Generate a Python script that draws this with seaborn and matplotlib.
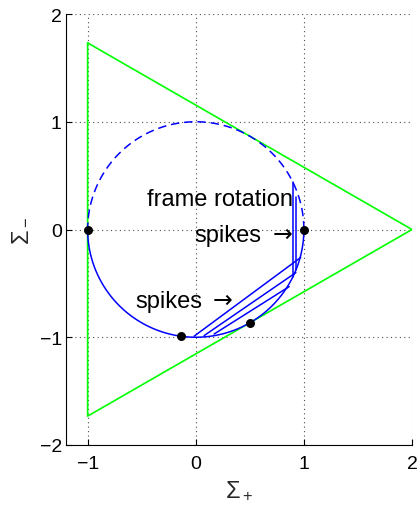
import numpy as np
import pandas as pd
import seaborn as sns
import matplotlib.pyplot as plt

# Kasner triangle vertices (closed)
triangle_x = [-1.0, -1.0, 2.0, -1.0]
triangle_y = [1.732, -1.732, 0.0, 1.732]

# Kasner circle: upper half dashed, lower half solid (angles in degrees)
circle_dashed_deg = (0.0, 180.0)
circle_solid_deg = (180.0, 360.0)

# Spike transitions: straight segments between Kasner points
spike_start_x = [-0.015, 0.077, 0.17]
spike_start_y = [-0.99, -0.985, -0.97]
spike_end_x = [0.97, 0.926, 0.864]
spike_end_y = [-0.26, -0.40, -0.53]

# Frame rotations: Sigma_+ held fixed while Sigma_- changes
rotation_x = [0.904, 0.926]
rotation_top = [0.44, 0.30]
rotation_bottom = [-0.44, -0.38]

# Marked points
dot_x = [-1.0, -0.14, 0.5, 1.0]
dot_y = [0.0, -0.99, -0.866, 0.0]

x_ticks = [-1, 0, 1, 2]
y_ticks = [-2, -1, 0, 1, 2]

sns.set_theme(style="white")
plt.rcParams["font.family"] = ["Liberation Sans", "DejaVu Sans"]
plt.rcParams["mathtext.fontset"] = "custom"
plt.rcParams["mathtext.rm"] = "Liberation Sans"
plt.rcParams["mathtext.it"] = "Liberation Sans:italic"
plt.rcParams["axes.unicode_minus"] = True

fig = plt.figure(figsize=(4.19, 5.10), dpi=100)
ax = fig.add_axes([66 / 419, 64 / 510, 346 / 419, 431 / 510])

blue = (0.0, 0.0, 1.0)
green = (0.0, 1.0, 0.0)

# Triangle
sns.lineplot(x=triangle_x, y=triangle_y, sort=False, estimator=None,
             color=green, lw=1.2, ax=ax)


def arc(deg_range, n=240):
    t = np.deg2rad(np.linspace(deg_range[0], deg_range[1], n))
    return np.cos(t), np.sin(t)


cx, cy = arc(circle_dashed_deg)
sns.lineplot(x=cx, y=cy, sort=False, estimator=None, color=blue, lw=1.1,
             ls=(0, (5.5, 3.2)), ax=ax)
cx, cy = arc(circle_solid_deg)
sns.lineplot(x=cx, y=cy, sort=False, estimator=None, color=blue, lw=1.1, ax=ax)

# Spikes and frame rotations as separate segments
rows = []
for i, (x0, y0, x1, y1) in enumerate(zip(spike_start_x, spike_start_y,
                                         spike_end_x, spike_end_y)):
    rows += [(f"s{i}", 0, x0, y0), (f"s{i}", 1, x1, y1)]
for i, (xr, yt, yb) in enumerate(zip(rotation_x, rotation_top, rotation_bottom)):
    rows += [(f"r{i}", 0, xr, yt), (f"r{i}", 1, xr, yb)]
seg = pd.DataFrame(rows, columns=["seg", "order", "x", "y"])
sns.lineplot(data=seg, x="x", y="y", units="seg", estimator=None, sort=False,
             color=blue, lw=1.1, ax=ax)

sns.scatterplot(x=dot_x, y=dot_y, color="black", s=42, edgecolor="black",
                linewidth=0, zorder=5, ax=ax)

txt_kw = dict(fontsize=17, va="baseline", color="black")
ax.text(0.895, 0.225, "frame rotation", ha="right",
        family=["Liberation Sans", "DejaVu Sans"], **txt_kw)
ax.text(0.611, -0.11, "spikes", ha="right",
        family=["Liberation Sans", "DejaVu Sans"], **txt_kw)
ax.text(0.895, -0.11, "\u2192", ha="right", family=["DejaVu Sans"],
        **txt_kw)
ax.text(0.062, -0.72, "spikes", ha="right",
        family=["Liberation Sans", "DejaVu Sans"], **txt_kw)
ax.text(0.34, -0.72, "\u2192", ha="right", family=["DejaVu Sans"],
        **txt_kw)

ax.set_xlim(-1.2, 2.0)
ax.set_ylim(-2.0, 2.0)
ax.set_xticks(x_ticks)
ax.set_yticks(y_ticks)
ax.set_xticklabels([f"{v}".replace("-", "\u2212") for v in x_ticks])
ax.set_yticklabels([f"{v}".replace("-", "\u2212") for v in y_ticks])

ax.grid(True, ls=(0, (1, 3)), color="0.3", lw=0.8)
ax.set_axisbelow(True)
for side in ("top", "right"):
    ax.spines[side].set_visible(False)
for side in ("left", "bottom"):
    ax.spines[side].set_color("black")
    ax.spines[side].set_linewidth(0.8)
ax.tick_params(direction="in", length=4, width=0.8, labelsize=14,
               colors="black", left=True, bottom=True)
ax.tick_params(axis="x", pad=7)
ax.tick_params(axis="y", pad=3)

ax.set_xlabel(r"$\Sigma_+$", fontsize=17, labelpad=5)
ax.set_ylabel(r"$\Sigma_-$", fontsize=17, labelpad=6)
ax.set_facecolor("white")
fig.patch.set_facecolor("white")

fig.savefig("out.png", dpi=100)
